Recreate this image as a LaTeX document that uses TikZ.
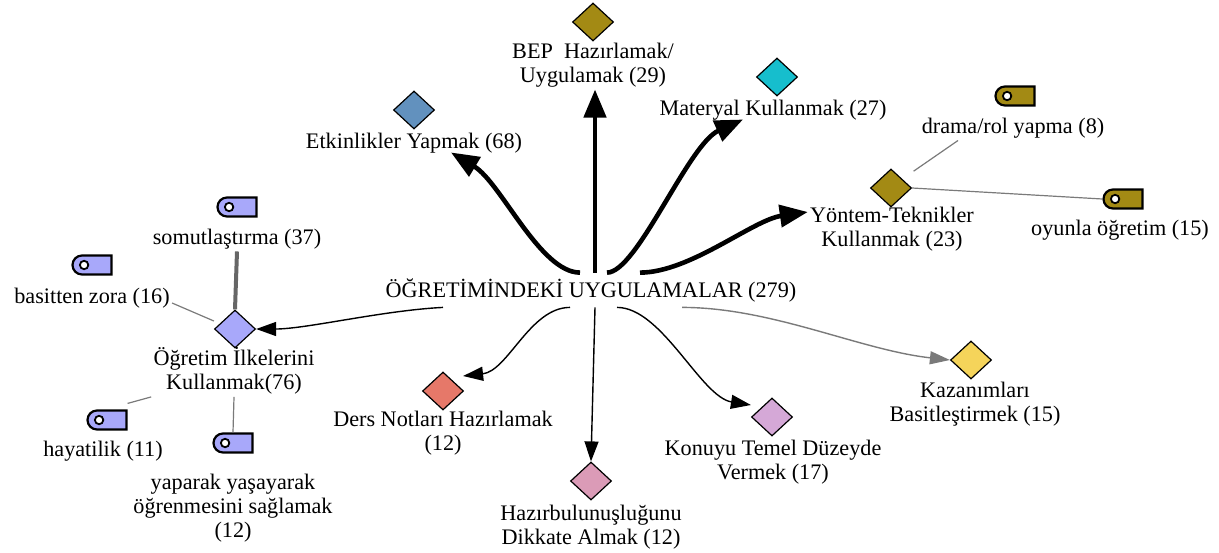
\documentclass[tikz,border=0pt]{standalone}
\usepackage{fontspec}
\setmainfont{Liberation Serif}
\usetikzlibrary{shapes.geometric,shapes.misc,arrows.meta}

\definecolor{olivefill}{HTML}{A38A14}
\definecolor{cyanfill}{HTML}{16BECD}
\definecolor{steelfill}{HTML}{6291BE}
\definecolor{yellowfill}{HTML}{F5D45A}
\definecolor{lilacfill}{HTML}{D5A8D7}
\definecolor{pinkfill}{HTML}{DB9BB7}
\definecolor{salmonfill}{HTML}{E67869}
\definecolor{periwinkle}{HTML}{A8A8FA}
\definecolor{linkgray}{HTML}{7A7A7A}
\definecolor{heavygray}{HTML}{666666}

\begin{document}
\begin{tikzpicture}[x=0.5pt,y=-0.5pt,
  lbl/.style={font=\fontsize{11.1}{12}\selectfont, align=center, inner sep=1pt},
  dia/.style={diamond, draw=black, line width=0.6pt, minimum width=20.5pt,
              minimum height=19pt, inner sep=0pt, fill=#1},
  tagbox/.style={rounded rectangle, rounded rectangle right arc=none,
              draw=black, line width=1.1pt, minimum width=19.5pt, minimum height=9.5pt,
              inner sep=0pt, fill=#1,
              path picture={\draw[line width=0.9pt, fill=white]
                ([xshift=5.8pt]path picture bounding box.west) circle (2.1pt);}},
  thickarr/.style={line width=2.3pt, -{Triangle[length=14pt,width=11pt]}},
  thinarr/.style={line width=0.7pt, -{Triangle[length=10pt,width=7pt]}},
  grayarr/.style={line width=0.7pt, draw=linkgray, -{Triangle[length=10pt,width=6.5pt]}},
  link/.style={line width=0.6pt, draw=linkgray},
  heavylink/.style={line width=2pt, draw=heavygray}
]
\useasboundingbox (0,0) rectangle (1219,552);

% central category
\node[lbl, minimum height=17pt] (root) at (591,290) {ÖĞRETİMİNDEKİ UYGULAMALAR (279)};

% upper branches
\node[dia=olivefill] (bepd) at (593,22) {};
\node[lbl] (bepl) at (593,65) {BEP\ \ Hazırlamak/\\Uygulamak (29)};
\node[dia=cyanfill] (mtd) at (777,77) {};
\node[lbl] (mtl) at (773,110) {Materyal Kullanmak (27)};
\node[dia=steelfill] (etd) at (414,110) {};
\node[lbl] (etl) at (414,143) {Etkinlikler Yapmak (68)};
\node[dia=olivefill] (ytd) at (891,188) {};
\node[lbl] (ytl) at (892,229) {Yöntem-Teknikler\\Kullanmak (23)};

% sub-codes of Yöntem-Teknikler
\node[tagbox=olivefill] (drt) at (1015,96) {};
\node[lbl] (drl) at (1013,128) {drama/rol yapma (8)};
\node[tagbox=olivefill] (oyt) at (1123,199) {};
\node[lbl] (oyl) at (1120,230) {oyunla öğretim (15)};

% lower branches
\node[dia=yellowfill] (kzd) at (971,360) {};
\node[lbl] (kzl) at (975,404) {Kazanımları\\Basitleştirmek (15)};
\node[dia=lilacfill] (knd) at (772,417) {};
\node[lbl] (knl) at (773,462) {Konuyu Temel Düzeyde\\Vermek (17)};
\node[dia=pinkfill] (hzd) at (591,481) {};
\node[lbl] (hzl) at (591,527) {Hazırbulunuşluğunu\\Dikkate Almak (12)};
\node[dia=salmonfill] (dnd) at (443,391) {};
\node[lbl] (dnl) at (443,433) {Ders Notları Hazırlamak\\(12)};
\node[dia=periwinkle] (ogd) at (235,329) {};
\node[lbl] (ogl) at (234,371) {Öğretim İlkelerini\\Kullanmak(76)};

% sub-codes of Öğretim İlkelerini Kullanmak
\node[tagbox=periwinkle] (smt) at (237,207) {};
\node[lbl] (sml) at (237,239) {somutlaştırma (37)};
\node[tagbox=periwinkle] (bzt) at (92,265) {};
\node[lbl] (bzl) at (92,298) {basitten zora (16)};
\node[tagbox=periwinkle] (hyt) at (107,420) {};
\node[lbl] (hyl) at (103,451) {hayatilik (11)};
\node[tagbox=periwinkle] (yat) at (233,443) {};
\node[lbl] (yal) at (233,508) {yaparak yaşayarak\\öğrenmesini sağlamak\\(12)};

% heavy arrows upwards
\draw[thickarr] ([xshift=-5.5pt]root.north) .. controls +(-40,0) and +(50,30) .. ([xshift=18.5pt,yshift=1.5pt]etl.south);
\draw[thickarr] ([xshift=2pt]root.north) -- ([xshift=1pt]bepl.south);
\draw[thickarr] ([xshift=8pt]root.north) .. controls +(30,0) and +(-55,25) .. ([xshift=-15pt,yshift=1.5pt]mtl.south);
\draw[thickarr] ([xshift=24.5pt]root.north) .. controls +(50,0) and +(-55,8) .. ([yshift=8.5pt]ytl.west);

% thin arrows downwards
\draw[thinarr] ([xshift=-74pt]root.south) .. controls +(-60,3) and +(50,0) .. (ogd.east);
\draw[thinarr] ([xshift=-10.5pt]root.south) .. controls +(-40,0) and +(45,-5) .. ([xshift=-0.5pt,yshift=7.5pt]dnd.east);
\draw[thinarr] ([xshift=2pt]root.south) -- (hzd.north);
\draw[thinarr] ([xshift=13pt]root.south) .. controls +(45,0) and +(-50,-8) .. ([yshift=6pt]knd.west);
\draw[grayarr] ([xshift=45.5pt]root.south) .. controls +(90,0) and +(-90,-10) .. (kzd.west);

% code links
\draw[link] ([xshift=6pt,yshift=3.5pt]ytd.north east) -- ([xshift=-27.5pt]drl.south);
\draw[link] (ytd.east) -- (oyt.west);
\draw[heavylink] (sml.south) -- (ogd.north);
\draw[link] ([yshift=-2.5pt]bzl.east) -- ([yshift=4pt]ogd.west);
\draw[link] ([yshift=3pt]hyt.north east) -- (ogl.south west);
\draw[link] (ogl.south) -- (yat.north);
\end{tikzpicture}
\end{document}
